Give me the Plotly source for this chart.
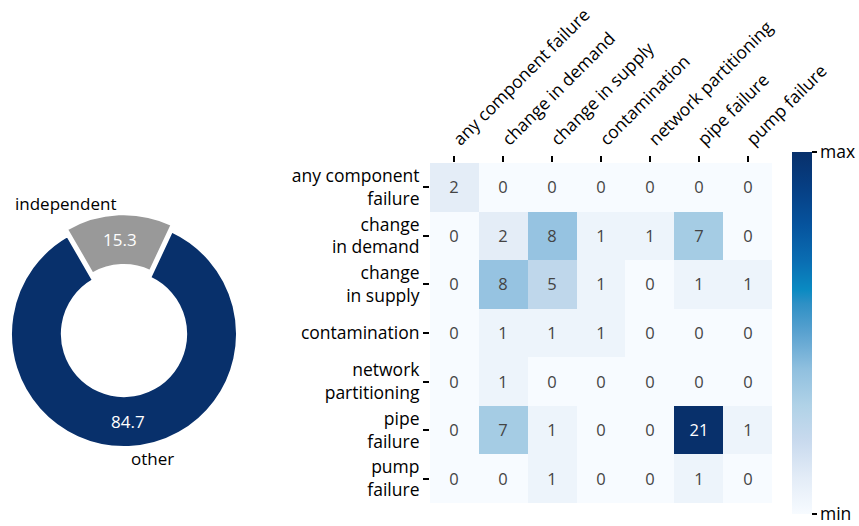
import math
import plotly.graph_objects as go

# ---- data ----
share_labels = ["independent", "other"]
share_values = [15.3, 84.7]
share_colors = ["#999999", "#08306b"]
share_pull = [0.06, 0.0]

categories = ["any component failure", "change in demand", "change in supply",
              "contamination", "network partitioning", "pipe failure", "pump failure"]
row_labels = ["any component<br>failure", "change<br>in demand", "change<br>in supply",
              "contamination", "network<br>partitioning", "pipe<br>failure", "pump<br>failure"]
counts = [
    [2, 0, 0, 0, 0, 0, 0],
    [0, 2, 8, 1, 1, 7, 0],
    [0, 8, 5, 1, 0, 1, 1],
    [0, 1, 1, 1, 0, 0, 0],
    [0, 1, 0, 0, 0, 0, 0],
    [0, 7, 1, 0, 0, 21, 1],
    [0, 0, 1, 0, 0, 1, 0],
]

# ---- style ----
W, H = 859, 526
FONT = "Open Sans"
TXT = "#000000"
TICK_SIZE = 17.5
blues = [
    [0.00, "#f7fbff"], [0.10, "#e3ecf7"], [0.20, "#c9daee"], [0.30, "#b0d2e7"],
    [0.40, "#90c0df"], [0.50, "#5aa2d0"], [0.58, "#2f90c5"], [0.62, "#0a8ac2"],
    [0.70, "#0a6db2"], [0.80, "#06539d"], [0.90, "#063f84"], [1.00, "#08306b"],
]

pie_dom_x = [0.0049, 0.2838]
pie_dom_y = [0.1373, 0.5928]
hole = 0.55
tilt = 2.5  # first slice centred this many degrees left of 12 o'clock
total = sum(share_values)
first_span = 360 * share_values[0] / total
rotation = -tilt - first_span / 2  # degrees clockwise from 12 o'clock

fig = go.Figure()

fig.add_trace(go.Pie(
    labels=share_labels, values=share_values, sort=False,
    direction="counterclockwise", rotation=rotation,
    hole=hole, pull=share_pull,
    marker=dict(colors=share_colors, line=dict(color="white", width=2)),
    textinfo="none", showlegend=False, hoverinfo="skip",
    domain=dict(x=pie_dom_x, y=pie_dom_y),
))

# label / value placement around the ring, derived from the slice angles
box_w = W * (pie_dom_x[1] - pie_dom_x[0])
box_h = H * (pie_dom_y[1] - pie_dom_y[0])
r = min(box_w, box_h) / (2 + 2 * max(share_pull))
cx = W * (pie_dom_x[0] + pie_dom_x[1]) / 2
cy = H * (pie_dom_y[0] + pie_dom_y[1]) / 2
start = 90 - rotation - first_span  # math angle where the first slice begins
for lab, val, pl in zip(share_labels, share_values, share_pull):
    span = 360 * val / total
    mid = math.radians(start + span / 2)
    start += span
    off = pl * r
    lr = 1.1 * r + off
    lx, ly = cx + lr * math.cos(mid), cy + lr * math.sin(mid)
    fig.add_annotation(x=lx / W, y=ly / H, xref="paper", yref="paper",
                       text=lab, showarrow=False,
                       xanchor="right" if math.cos(mid) < 0 else "left",
                       yanchor="middle", font=dict(family=FONT, size=17, color=TXT))
    vr = r * (1 + hole) / 2 + off
    vx, vy = cx + vr * math.cos(mid), cy + vr * math.sin(mid)
    fig.add_annotation(x=vx / W, y=vy / H, xref="paper", yref="paper",
                       text=f"{val:.1f}", showarrow=False,
                       xanchor="center", yanchor="middle",
                       font=dict(family=FONT, size=17, color="white"))

zmax = max(max(row) for row in counts)
zmin = min(min(row) for row in counts)
fig.add_trace(go.Heatmap(
    z=counts, x=categories, y=row_labels,
    colorscale=blues, zmin=zmin, zmax=zmax,
    texttemplate="%{z}", textfont=dict(family=FONT, size=16.5),
    xgap=0, ygap=0,
    colorbar=dict(
        thickness=20, lenmode="pixels", len=362,
        x=792 / W, xanchor="left", xpad=0,
        y=(H - 152) / H, yanchor="top", ypad=0,
        outlinewidth=0,
        tickvals=[zmin, zmax], ticktext=["min", "max"],
        ticks="outside", ticklen=5, tickwidth=1.5, tickcolor="black",
        ticklabeloverflow="allow",
        tickfont=dict(family=FONT, size=TICK_SIZE, color=TXT),
    ),
    hoverinfo="skip",
))

fig.update_layout(
    width=W, height=H,
    margin=dict(l=0, r=0, t=0, b=0, autoexpand=False),
    paper_bgcolor="white", plot_bgcolor="white",
    font=dict(family=FONT, size=16, color=TXT),
    xaxis=dict(domain=[430 / W, 772 / W], side="top", tickangle=-45,
               ticks="outside", ticklen=6, tickwidth=1.5, tickcolor="black",
               showgrid=False, zeroline=False, showline=False, automargin=False,
               tickfont=dict(family=FONT, size=TICK_SIZE, color=TXT)),
    yaxis=dict(domain=[(H - 503) / H, (H - 163) / H], autorange="reversed",
               ticks="outside", ticklen=6, tickwidth=1.5, tickcolor="black",
               showgrid=False, zeroline=False, showline=False, automargin=False,
               tickfont=dict(family=FONT, size=TICK_SIZE, color=TXT)),
)

fig.write_html("out.html")
